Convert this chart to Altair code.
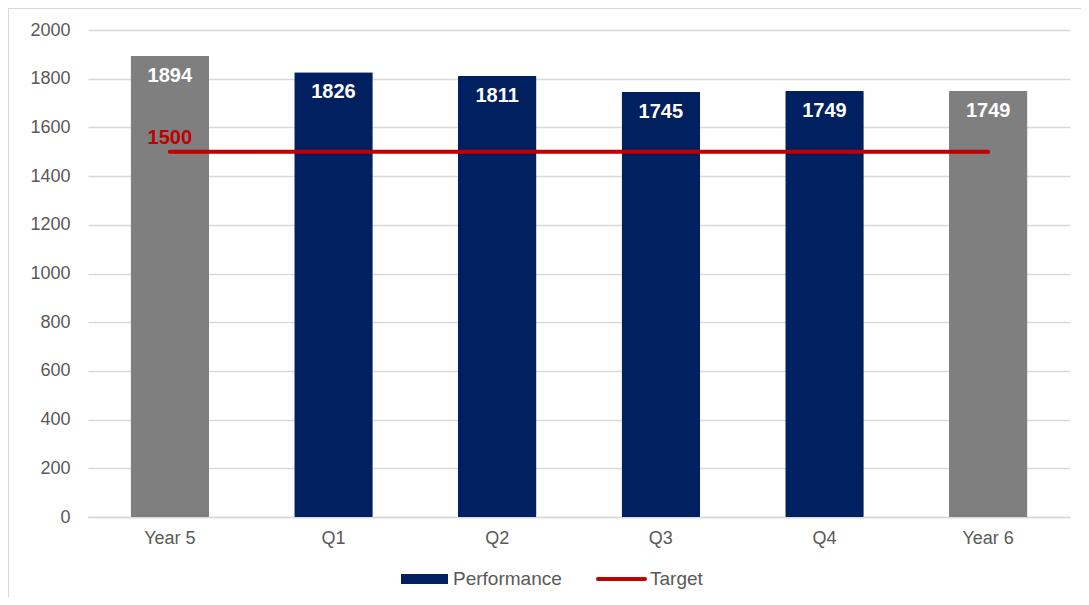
import altair as alt
import pandas as pd

categories = ["Year 5", "Q1", "Q2", "Q3", "Q4", "Year 6"]
values = [1894, 1826, 1811, 1745, 1749, 1749]
series = ["Year", "Performance", "Performance", "Performance", "Performance", "Year"]
target = [1500, 1500, 1500, 1500, 1500, 1500]
legend_labels = ["Performance", "Target"]
color_domain = ["Performance", "Target", "Year"]
color_range = ["#002060", "#C00000", "#7F7F7F"]
y_ticks = [0, 200, 400, 600, 800, 1000, 1200, 1400, 1600, 1800, 2000]

FONT = "Liberation Sans"
GRAY = "#595959"

bars_df = pd.DataFrame({"cat": categories, "value": values, "series": series})
target_df = pd.DataFrame({"cat": categories, "value": target, "series": ["Target"] * len(categories)})
target_label_df = target_df.iloc[:1]
one_df = pd.DataFrame({"k": [0]})

x = alt.X(
    "cat:N",
    sort=categories,
    title=None,
    scale=alt.Scale(paddingInner=0.52, paddingOuter=0.26),
    axis=alt.Axis(
        labelAngle=0, labelFont=FONT, labelFontSize=18, labelColor=GRAY,
        labelPadding=12, ticks=False, tickSize=0, domain=True,
        domainColor="#D9D9D9", domainWidth=1.5, grid=False,
    ),
)
y = alt.Y(
    "value:Q",
    title=None,
    scale=alt.Scale(domain=[0, 2000], nice=False),
    axis=alt.Axis(
        values=y_ticks, format="d", labelFont=FONT, labelFontSize=18, labelColor=GRAY,
        labelPadding=18, ticks=False, tickSize=0, domain=False,
        grid=True, gridColor="#D9D9D9", gridWidth=1.5,
    ),
)

color = alt.Color(
    "series:N",
    scale=alt.Scale(domain=color_domain, range=color_range),
    legend=None,
)

frame = alt.Chart(one_df).mark_rect(
    fill="transparent", stroke="#D9D9D9", strokeWidth=2
).encode(
    x=alt.value(-80), x2=alt.value(1100), y=alt.value(-22), y2=alt.value(700)
)

bars = alt.Chart(bars_df).mark_bar(cornerRadius=1).encode(x=x, y=y, color=color)

bar_labels = alt.Chart(bars_df).mark_text(
    baseline="middle", dy=20, color="white", fontWeight="bold", fontSize=20, font=FONT
).encode(x=alt.X("cat:N", sort=categories), y="value:Q", text="value:Q")

target_line = alt.Chart(target_df).mark_line(
    strokeWidth=4, strokeCap="round"
).encode(x=alt.X("cat:N", sort=categories), y="value:Q", color=color)

target_label = alt.Chart(target_label_df).mark_text(
    baseline="middle", dy=-14, color="#C00000", fontWeight="bold", fontSize=20, font=FONT
).encode(x=alt.X("cat:N", sort=categories), y="value:Q", text="value:Q")

# manual legend (decoration)
leg_perf_sym = alt.Chart(one_df).mark_rect(color=color_range[0]).encode(
    x=alt.value(313), x2=alt.value(360), y=alt.value(544), y2=alt.value(554)
)
leg_perf_txt = alt.Chart(pd.DataFrame({"t": [legend_labels[0]]})).mark_text(
    align="left", baseline="middle", fontSize=19, font=FONT, color=GRAY
).encode(x=alt.value(365), y=alt.value(549), text="t:N")
leg_tgt_sym = alt.Chart(one_df).mark_rule(
    color=color_range[1], strokeWidth=4, strokeCap="round"
).encode(x=alt.value(510), x2=alt.value(557), y=alt.value(549))
leg_tgt_txt = alt.Chart(pd.DataFrame({"t": [legend_labels[1]]})).mark_text(
    align="left", baseline="middle", fontSize=19, font=FONT, color=GRAY
).encode(x=alt.value(562), y=alt.value(549), text="t:N")

chart = alt.layer(
    frame, bars, bar_labels, target_line, target_label,
    leg_perf_sym, leg_perf_txt, leg_tgt_sym, leg_tgt_txt,
).properties(
    width=982,
    height=487,
    autosize=alt.AutoSizeParams(type="none"),
    padding={"left": 80, "top": 22, "right": 11, "bottom": 80},
).configure(
    background="white",
    view=alt.ViewConfig(stroke=None),
)

chart.save("out.html", embed_options={"renderer": "svg", "actions": False})
